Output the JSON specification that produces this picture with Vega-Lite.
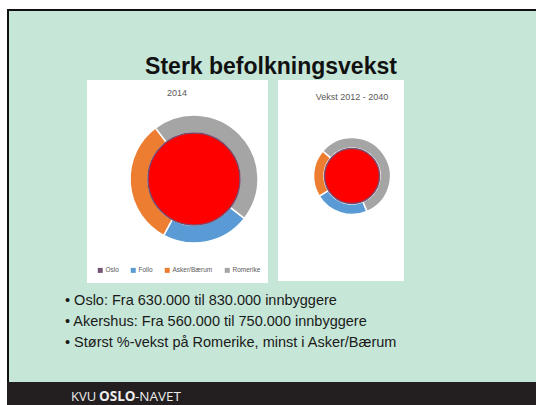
{
  "$schema": "https://vega.github.io/schema/vega-lite/v6.json",
  "padding": 0,
  "background": "#C6E6D7",
  "spacing": 0,
  "config": {"view": {"stroke": null}, "font": "Liberation Sans", "concat": {"spacing": 0}},
  "vconcat": [
    {"width": 536, "height": 9, "view": {"fill": "#FFFFFF"}, "data": {"values": []}, "mark": "point"},
    {"spacing": 0, "hconcat": [
      {"width": 7, "height": 2, "view": {"fill": "#FFFFFF"}, "data": {"values": []}, "mark": "point"},
      {"width": 529, "height": 2, "view": {"fill": "#111111"}, "data": {"values": []}, "mark": "point"}
    ]},
    {"spacing": 0, "hconcat": [
      {"width": 7, "height": 371, "view": {"fill": "#FFFFFF"}, "data": {"values": []}, "mark": "point"},
      {"width": 2, "height": 371, "view": {"fill": "#111111"}, "data": {"values": []}, "mark": "point"},
      {"spacing": 0, "vconcat": [
        {"width": 527, "height": 69, "data": {"values": [{"tittel": "Sterk befolkningsvekst"}]},
         "mark": {"type": "text", "fontSize": 23, "fontWeight": "bold", "color": "#111111", "baseline": "alphabetic", "dx": -1.5, "dy": 28},
         "encoding": {"text": {"field": "tittel"}}},
        {"spacing": 10,
         "resolve": {"scale": {"color": "independent", "theta": "independent"}, "legend": {"color": "independent"}},
         "hconcat": [
          {"width": 68, "height": 203, "data": {"values": []}, "mark": "point"},
          {"width": 181, "height": 203, "view": {"fill": "#FFFFFF"},
           "resolve": {"scale": {"theta": "independent"}},
           "layer": [
             {"data": {"values": [{"label": "2014"}]},
              "mark": {"type": "text", "baseline": "middle", "dx": -0.5, "dy": -88.5, "fontSize": 9, "color": "#595959"},
              "encoding": {"text": {"field": "label"}}},
             {"data": {"values": [
                {"region": "Follo", "value": 126, "idx": 1},
                {"region": "Asker/Bærum", "value": 180, "idx": 2},
                {"region": "Romerike", "value": 259, "idx": 3}
              ]},
              "mark": {"type": "arc", "radius": 64, "radius2": 46, "stroke": "#FFFFFF", "strokeWidth": 1.5, "xOffset": 16.5, "yOffset": -2.5},
              "encoding": {
                "theta": {"field": "value", "type": "quantitative", "stack": true, "scale": {"range": [2.234, 8.517]}},
                "order": {"field": "idx", "type": "quantitative"},
                "color": {"field": "region", "type": "nominal",
                  "scale": {"domain": ["Oslo", "Follo", "Asker/Bærum", "Romerike"], "range": ["#775577", "#5B9BD5", "#ED7D31", "#A5A5A5"]},
                  "legend": {"orient": "none", "legendX": 10, "legendY": 187, "direction": "horizontal", "title": null,
                    "symbolType": "square", "labelFontSize": 6.5, "labelColor": "#595959", "labelOffset": 2, "columnPadding": 11,
                    "symbolSize": 25, "symbolStrokeWidth": 0,
                    "encode": {"symbols": {"update": {"size": {"signal": "datum.value === 'Oslo' ? 25 : 5"}}}}}}
              }},
             {"data": {"values": [{"region": "Oslo", "value": 630}]},
              "mark": {"type": "arc", "radius": 46, "fill": "#FF0000", "stroke": "#7A4A6A", "strokeWidth": 1.5, "xOffset": 16.5, "yOffset": -2.5},
              "encoding": {"theta": {"field": "value", "type": "quantitative"}}}
           ]},
          {"width": 126, "height": 201, "view": {"fill": "#FFFFFF"},
           "resolve": {"scale": {"theta": "independent"}},
           "layer": [
             {"data": {"values": [{"label": "Vekst 2012 - 2040"}]},
              "mark": {"type": "text", "baseline": "middle", "dx": 11, "dy": -83.5, "fontSize": 9, "color": "#595959"},
              "encoding": {"text": {"field": "label"}}},
             {"data": {"values": [
                {"region": "Follo", "value": 43, "idx": 1},
                {"region": "Asker/Bærum", "value": 38, "idx": 2},
                {"region": "Romerike", "value": 109, "idx": 3}
              ]},
              "mark": {"type": "arc", "radius": 38.5, "radius2": 28, "stroke": "#FFFFFF", "strokeWidth": 1.5, "xOffset": 11, "yOffset": -4.5},
              "encoding": {
                "theta": {"field": "value", "type": "quantitative", "stack": true, "scale": {"range": [2.740, 9.023]}},
                "order": {"field": "idx", "type": "quantitative"},
                "color": {"field": "region", "type": "nominal",
                  "scale": {"domain": ["Oslo", "Follo", "Asker/Bærum", "Romerike"], "range": ["#775577", "#5B9BD5", "#ED7D31", "#A5A5A5"]},
                  "legend": null}
              }},
             {"data": {"values": [{"region": "Oslo", "value": 200}]},
              "mark": {"type": "arc", "radius": 27.5, "fill": "#FF0000", "stroke": "#7A4A6A", "strokeWidth": 1.5, "xOffset": 11, "yOffset": -4.5},
              "encoding": {"theta": {"field": "value", "type": "quantitative"}}}
           ]}
        ]},
        {"width": 112, "height": 99,
         "data": {"values": [
           {"line": 1, "tekst": "• Oslo: Fra 630.000 til 830.000 innbyggere"},
           {"line": 2, "tekst": "• Akershus: Fra 560.000 til 750.000 innbyggere"},
           {"line": 3, "tekst": "• Størst %-vekst på Romerike, minst i Asker/Bærum"}
         ]},
         "mark": {"type": "text", "align": "left", "baseline": "alphabetic", "fontSize": 14.5, "color": "#1A1A1A"},
         "encoding": {
           "y": {"field": "line", "type": "ordinal", "scale": {"type": "point", "range": [22, 64], "padding": 0}, "axis": null},
           "text": {"field": "tekst"}
         }}
      ]}
    ]},
    {"spacing": 0, "hconcat": [
      {"width": 7, "height": 23, "view": {"fill": "#FFFFFF"}, "data": {"values": []}, "mark": "point"},
      {"width": 529, "height": 23, "view": {"fill": "#231F20"},
       "data": {"values": [{"a": "KVU", "b": "OSLO", "c": "-NAVET"}]},
       "layer": [
         {"mark": {"type": "text", "align": "left", "baseline": "alphabetic", "dx": -200.5, "dy": 7.5, "fontSize": 13, "font": "Open Sans", "color": "#EDEDED"}, "encoding": {"text": {"field": "a"}}},
         {"mark": {"type": "text", "align": "left", "baseline": "alphabetic", "dx": -172.5, "dy": 7.5, "fontSize": 13.5, "font": "Open Sans", "fontWeight": "bold", "color": "#EDEDED"}, "encoding": {"text": {"field": "b"}}},
         {"mark": {"type": "text", "align": "left", "baseline": "alphabetic", "dx": -136.5, "dy": 7.5, "fontSize": 13.5, "font": "Open Sans", "color": "#EDEDED"}, "encoding": {"text": {"field": "c"}}}
       ]}
    ]}
  ]
}
